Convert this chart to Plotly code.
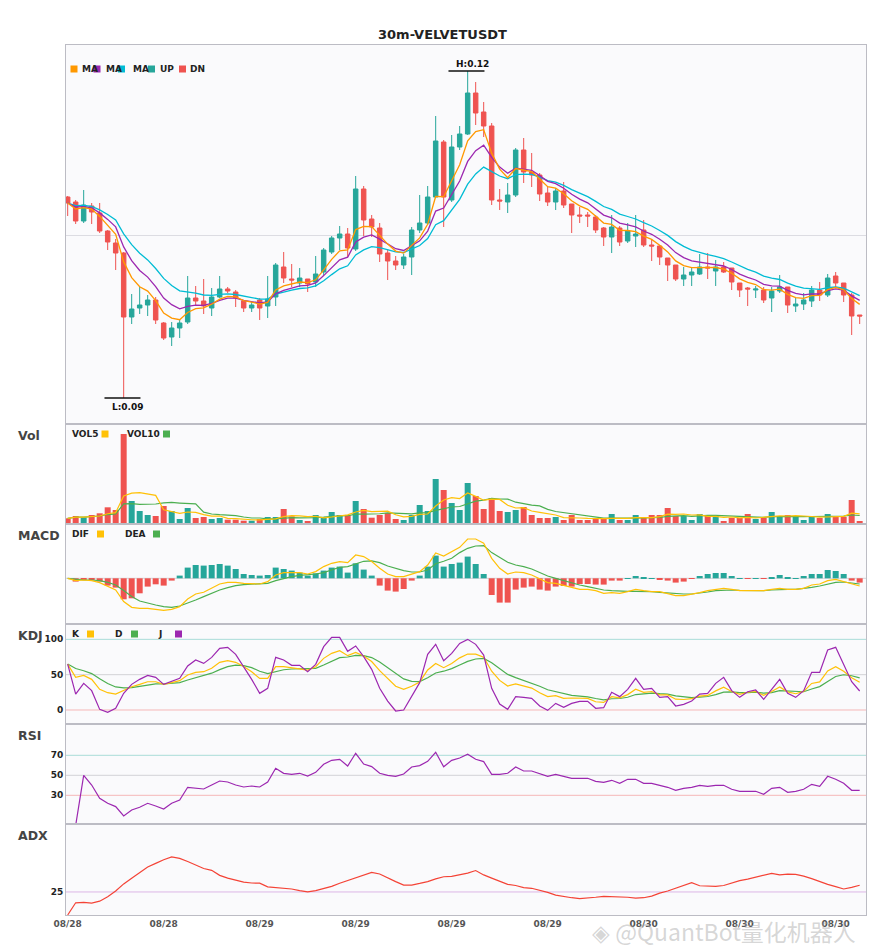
import plotly.graph_objects as go
from plotly.subplots import make_subplots

symbol = "30m-VELVETUSDT"
tick_index = [0, 12, 24, 36, 48, 60, 72, 84, 96]
tick_labels = ["08/28", "08/28", "08/29", "08/29", "08/29", "08/29", "08/30", "08/30", "08/30"]

open_ = [0.1074, 0.1069, 0.1050, 0.1065, 0.1058, 0.1040, 0.1028, 0.1018, 0.0954, 0.0963,
         0.0966, 0.0971, 0.0948, 0.0934, 0.0943, 0.0949, 0.0973, 0.0970, 0.0963, 0.0974,
         0.0982, 0.0979, 0.0970, 0.0963, 0.0971, 0.0965, 0.0974, 0.1004, 0.0992, 0.0988,
         0.0992, 0.0989, 0.0999, 0.1019, 0.1033, 0.1037, 0.1022, 0.1082, 0.1052, 0.1043,
         0.1018, 0.1010, 0.1006, 0.1014, 0.1041, 0.1048, 0.1074, 0.1129, 0.1071, 0.1124,
         0.1137, 0.1178, 0.1159, 0.1145, 0.1071, 0.1069, 0.1076, 0.1121, 0.1099, 0.1096,
         0.1078, 0.1069, 0.1080, 0.1067, 0.1056, 0.1056, 0.1054, 0.1043, 0.1034, 0.1043,
         0.1030, 0.1035, 0.1041, 0.1026, 0.1025, 0.1013, 0.1006, 0.0992, 0.0996, 0.0997,
         0.1004, 0.1000, 0.1004, 0.1003, 0.0988, 0.0983, 0.0981, 0.0981, 0.0973, 0.0980,
         0.0984, 0.0965, 0.0967, 0.0970, 0.0981, 0.0976, 0.0995, 0.0988, 0.0976, 0.0956]
high = [0.1075, 0.1071, 0.1081, 0.1068, 0.1068, 0.1041, 0.1032, 0.1019, 0.0977, 0.0984,
        0.0976, 0.0974, 0.0949, 0.0949, 0.0952, 0.0995, 0.0985, 0.0992, 0.0983, 0.0995,
        0.0984, 0.0981, 0.0971, 0.0969, 0.0973, 0.0995, 0.1008, 0.1019, 0.1007, 0.1003,
        0.0992, 0.1015, 0.1023, 0.1035, 0.1045, 0.1043, 0.1095, 0.1085, 0.1056, 0.1048,
        0.1022, 0.1015, 0.1017, 0.1044, 0.1076, 0.1085, 0.1155, 0.1131, 0.1136, 0.1145,
        0.1200, 0.1189, 0.1169, 0.1148, 0.1082, 0.1088, 0.1123, 0.1133, 0.1118, 0.1098,
        0.1084, 0.1083, 0.1089, 0.1067, 0.1064, 0.1059, 0.1056, 0.1044, 0.1056, 0.1045,
        0.1048, 0.1056, 0.1051, 0.1031, 0.1026, 0.1013, 0.1006, 0.1004, 0.1004, 0.1017,
        0.1018, 0.1011, 0.1009, 0.1003, 0.0988, 0.0984, 0.0985, 0.0984, 0.0984, 0.0996,
        0.0984, 0.0973, 0.0978, 0.0985, 0.0989, 0.0997, 0.0999, 0.0988, 0.0978, 0.0956]
low = [0.1055, 0.1047, 0.1048, 0.1047, 0.1038, 0.1021, 0.1001, 0.0873, 0.0947, 0.0957,
       0.0955, 0.0947, 0.0931, 0.0925, 0.0933, 0.0947, 0.0966, 0.0957, 0.0955, 0.0973,
       0.0978, 0.0964, 0.0959, 0.0959, 0.0951, 0.0953, 0.0965, 0.0988, 0.0984, 0.0984,
       0.0979, 0.0984, 0.0996, 0.1017, 0.1021, 0.1014, 0.1020, 0.1035, 0.1034, 0.1009,
       0.0991, 0.1001, 0.1002, 0.0996, 0.1038, 0.1046, 0.1074, 0.1044, 0.1069, 0.1121,
       0.1136, 0.1146, 0.1134, 0.1066, 0.1061, 0.1058, 0.1074, 0.1088, 0.1084, 0.1070,
       0.1065, 0.1061, 0.1063, 0.1038, 0.1048, 0.1044, 0.1038, 0.1025, 0.1018, 0.1025,
       0.1028, 0.1024, 0.1024, 0.1010, 0.1006, 0.0990, 0.0990, 0.0985, 0.0985, 0.0996,
       0.0992, 0.0985, 0.0998, 0.0981, 0.0974, 0.0965, 0.0973, 0.0968, 0.0959, 0.0978,
       0.0958, 0.0959, 0.0961, 0.0964, 0.0970, 0.0974, 0.0983, 0.0969, 0.0936, 0.0947]
close_ = [0.1068, 0.1050, 0.1066, 0.1059, 0.1040, 0.1029, 0.1018, 0.0954, 0.0962, 0.0966,
          0.0971, 0.0951, 0.0933, 0.0943, 0.0948, 0.0973, 0.0970, 0.0965, 0.0974, 0.0982,
          0.0980, 0.0973, 0.0963, 0.0966, 0.0963, 0.0972, 0.1006, 0.0993, 0.0991, 0.0993,
          0.0987, 0.0997, 0.1021, 0.1033, 0.1037, 0.1023, 0.1082, 0.1051, 0.1044, 0.1017,
          0.1010, 0.1006, 0.1014, 0.1041, 0.1048, 0.1074, 0.1130, 0.1074, 0.1124, 0.1137,
          0.1178, 0.1158, 0.1145, 0.1071, 0.1070, 0.1076, 0.1121, 0.1099, 0.1096, 0.1077,
          0.1069, 0.1080, 0.1066, 0.1056, 0.1055, 0.1055, 0.1041, 0.1034, 0.1044, 0.1029,
          0.1040, 0.1037, 0.1026, 0.1025, 0.1014, 0.1006, 0.0992, 0.0996, 0.0999, 0.1004,
          0.1003, 0.1004, 0.0999, 0.0989, 0.0981, 0.0982, 0.0982, 0.0971, 0.0980, 0.0984,
          0.0966, 0.0967, 0.0971, 0.0981, 0.0976, 0.0993, 0.0988, 0.0976, 0.0955, 0.0955]

ma5 = [0.10680, 0.10620, 0.10633, 0.10619, 0.10546, 0.10461, 0.10367, 0.10091, 0.09934, 0.09843,
       0.09799, 0.09703, 0.09579, 0.09529, 0.09513, 0.09585, 0.09623, 0.09632, 0.09668, 0.09719,
       0.09746, 0.09741, 0.09704, 0.09689, 0.09669, 0.09686, 0.09811, 0.09851, 0.09871, 0.09890,
       0.09883, 0.09912, 0.10011, 0.10117, 0.10201, 0.10211, 0.10414, 0.10446, 0.10444, 0.10353,
       0.10269, 0.10199, 0.10179, 0.10256, 0.10331, 0.10467, 0.10745, 0.10743, 0.10909, 0.11063,
       0.11302, 0.11395, 0.11413, 0.11179, 0.11019, 0.10933, 0.11025, 0.11013, 0.10995, 0.10920,
       0.10843, 0.10829, 0.10773, 0.10702, 0.10651, 0.10617, 0.10548, 0.10479, 0.10466, 0.10407,
       0.10405, 0.10393, 0.10349, 0.10316, 0.10257, 0.10191, 0.10101, 0.10054, 0.10033, 0.10035,
       0.10033, 0.10035, 0.10020, 0.09977, 0.09921, 0.09887, 0.09865, 0.09813, 0.09809, 0.09819,
       0.09766, 0.09734, 0.09726, 0.09754, 0.09756, 0.09814, 0.09836, 0.09811, 0.09724, 0.09666]
ma8 = [0.10680, 0.10640, 0.10644, 0.10632, 0.10581, 0.10516, 0.10441, 0.10241, 0.10103, 0.10005,
       0.09939, 0.09844, 0.09730, 0.09663, 0.09622, 0.09646, 0.09658, 0.09656, 0.09675, 0.09707,
       0.09728, 0.09728, 0.09706, 0.09696, 0.09681, 0.09690, 0.09772, 0.09807, 0.09830, 0.09852,
       0.09856, 0.09881, 0.09954, 0.10038, 0.10112, 0.10138, 0.10290, 0.10339, 0.10361, 0.10319,
       0.10270, 0.10223, 0.10205, 0.10251, 0.10302, 0.10399, 0.10599, 0.10630, 0.10766, 0.10900,
       0.11096, 0.11203, 0.11258, 0.11136, 0.11039, 0.10977, 0.11029, 0.11020, 0.11007, 0.10954,
       0.10896, 0.10874, 0.10827, 0.10767, 0.10719, 0.10682, 0.10621, 0.10559, 0.10532, 0.10479,
       0.10461, 0.10441, 0.10400, 0.10367, 0.10317, 0.10260, 0.10184, 0.10134, 0.10102, 0.10089,
       0.10075, 0.10068, 0.10050, 0.10015, 0.09969, 0.09936, 0.09910, 0.09866, 0.09851, 0.09849,
       0.09807, 0.09776, 0.09762, 0.09772, 0.09770, 0.09805, 0.09822, 0.09808, 0.09751, 0.09706]
ma13 = [0.10680, 0.10654, 0.10655, 0.10646, 0.10611, 0.10565, 0.10510, 0.10371, 0.10264, 0.10178,
        0.10111, 0.10025, 0.09926, 0.09855, 0.09801, 0.09791, 0.09778, 0.09760, 0.09757, 0.09766,
        0.09771, 0.09765, 0.09746, 0.09734, 0.09719, 0.09719, 0.09768, 0.09791, 0.09808, 0.09825,
        0.09832, 0.09852, 0.09903, 0.09964, 0.10022, 0.10052, 0.10161, 0.10211, 0.10244, 0.10233,
        0.10214, 0.10192, 0.10185, 0.10217, 0.10255, 0.10324, 0.10463, 0.10503, 0.10608, 0.10717,
        0.10869, 0.10971, 0.11039, 0.10992, 0.10950, 0.10923, 0.10964, 0.10968, 0.10967, 0.10939,
        0.10903, 0.10888, 0.10856, 0.10814, 0.10776, 0.10744, 0.10696, 0.10645, 0.10616, 0.10569,
        0.10545, 0.10520, 0.10483, 0.10450, 0.10405, 0.10356, 0.10294, 0.10246, 0.10209, 0.10185,
        0.10163, 0.10146, 0.10123, 0.10090, 0.10050, 0.10017, 0.09989, 0.09949, 0.09928, 0.09915,
        0.09879, 0.09849, 0.09829, 0.09826, 0.09817, 0.09833, 0.09840, 0.09828, 0.09789, 0.09754]

volume = [57, 80, 67, 90, 107, 167, 140, 900, 230, 130,
          90, 80, 180, 130, 50, 160, 60, 70, 50, 60,
          43, 43, 33, 33, 50, 70, 70, 150, 77, 40,
          30, 90, 70, 120, 90, 90, 230, 150, 63, 90,
          110, 50, 40, 90, 190, 130, 450, 340, 210, 140,
          410, 280, 150, 260, 130, 120, 140, 170, 90, 60,
          60, 70, 40, 90, 40, 40, 50, 50, 100, 40,
          40, 90, 60, 90, 90, 160, 80, 80, 40, 100,
          80, 80, 30, 60, 60, 100, 50, 60, 120, 80,
          90, 70, 40, 80, 60, 100, 70, 70, 240, 30]
vol5 = [57, 68.5, 68, 73.5, 80.2, 102.2, 114.2, 280.8, 308.8, 313.4,
        298, 286, 142, 122, 106, 120, 116, 94, 78, 80,
        56.6, 53.2, 45.8, 42.4, 40.4, 45.8, 51.2, 74.6, 83.4, 81.4,
        73.4, 77.4, 61.4, 70, 80, 92, 120, 136, 124.6, 124.6,
        128.6, 92.6, 70.6, 76, 96, 100, 180, 240, 264, 254,
        310, 276, 238, 248, 246, 188, 160, 164, 130, 116,
        104, 90, 64, 64, 60, 56, 52, 54, 56, 56,
        56, 64, 66, 64, 74, 98, 96, 100, 90, 92,
        76, 76, 66, 70, 62, 66, 60, 66, 78, 82,
        80, 84, 80, 72, 68, 70, 70, 76, 108, 102]
vol10 = [57, 68.5, 68, 73.5, 80.2, 94.7, 101.1, 201, 204.2, 196.8,
         200.1, 200.1, 211.4, 215.4, 209.7, 209, 201, 118, 100, 93,
         88.3, 84.6, 69.9, 60.2, 60.2, 51.2, 52.2, 60.2, 62.9, 60.9,
         59.6, 64.3, 68, 76.7, 80.7, 82.7, 98.7, 98.7, 97.3, 102.3,
         110.3, 106.3, 103.3, 100.3, 110.3, 114.3, 136.3, 155.3, 170, 175,
         205, 228, 239, 256, 250, 249, 218, 201, 189, 181,
         146, 125, 114, 97, 88, 80, 71, 59, 60, 58,
         56, 58, 60, 60, 65, 77, 80, 83, 77, 83,
         87, 86, 83, 80, 77, 71, 68, 66, 74, 72,
         73, 72, 73, 75, 75, 75, 77, 78, 90, 85]

dif = [0, -2.3, -1.7, -2.3, -4.3, -8.3, -11.7, -23.3, -29, -30,
       -30, -31, -32, -31, -28.3, -20.7, -15.7, -14, -10, -5.7,
       -4, -4, -5, -5.3, -5.7, -3.3, 3.3, 5.7, 5.7, 5.7,
       4.3, 6.7, 11.7, 15, 16.7, 15.7, 23.3, 21.7, 16.7, 10,
       4.3, 1.7, 1.7, 4.3, 6.7, 13.3, 25.3, 22.3, 26.7, 31,
       39.3, 39.3, 35, 20, 10, 4.3, 6.3, 5.7, 3.3, -0.7,
       -4.3, -5, -6.7, -9, -11, -11, -12.3, -15, -14.3, -15,
       -13.3, -11, -12.3, -13.3, -13.3, -15, -17.3, -17.3, -16, -14.3,
       -12.3, -11, -10, -11, -12.3, -12.3, -12.3, -12.3, -11, -10,
       -11, -11, -10, -6.7, -5.7, -2.3, -1, -3.3, -5.7, -7.7]
dea = [0, -1, -1.7, -1.7, -2.3, -4, -6.7, -12.3, -18.3, -22.7,
       -25, -26.7, -28.3, -29, -27.7, -25, -21.7, -18.3, -15, -11.7,
       -9.3, -7.3, -6.3, -6, -5.7, -5, -2.3, 0, 1.7, 3,
       3.3, 4.3, 5.7, 8.3, 11, 11.7, 14.5, 17, 17.5, 15.7,
       12.3, 10, 7.7, 6.3, 6.3, 8.3, 14.5, 17, 20, 25.7,
       30, 32.3, 32.7, 25.7, 21, 16, 13.3, 11.7, 9.3, 6,
       2.3, 0, -2.3, -5, -6.7, -8.3, -10, -11.7, -12.3, -13,
       -13, -13, -13, -13.3, -14, -14.7, -15.7, -15.7, -15.7, -15,
       -13.7, -12.3, -11.7, -11.7, -12, -12.3, -12.3, -12.3, -11.7, -11,
       -11, -11, -10.3, -9, -7.7, -5.7, -4, -3.7, -4.7, -5.7]
macd_hist = [0, -3.3, -1.7, -1.7, -3.3, -7.3, -9.3, -21, -20, -15,
             -8.3, -6, -7.3, -2.3, 2.7, 10.7, 13.3, 12.7, 13.3, 14.3,
             12.7, 9.3, 4.3, 3.3, 2.7, 3.3, 10.7, 9.3, 7.7, 5.7,
             2.7, 5, 7.7, 10.7, 11.7, 5.7, 15, 8.7, 2.7, -7.3,
             -12.3, -13.3, -10.7, -2.3, 2.7, 11.7, 22.7, 11.7, 14.3, 15.7,
             21.7, 14.3, 4.3, -16.7, -24.3, -24.3, -11.3, -9.3, -8.3, -11.3,
             -12.3, -8.3, -7.7, -8.3, -5.7, -5.7, -6.3, -6.3, -2.3, -2.3,
             0.3, 2.3, 1.3, 0.3, -1.3, -2.3, -4.3, -3.3, -0.7, 2.3,
             4.3, 5.3, 5.3, 2.3, 0.3, -0.7, 0.3, -0.7, 1.3, 3.3,
             1.3, 0.3, 2.3, 4.3, 4.3, 8.3, 7.3, 4.3, -2.3, -4.3]

k_line = [65, 46.2, 49, 43.4, 29.2, 24.5, 22.6, 28.3, 33, 36.3,
          40, 40, 36.3, 38.7, 41.5, 49.5, 53.3, 54.2, 59, 67.5,
          69.8, 67.5, 61.7, 54, 44.8, 44.8, 61.3, 61.3, 59.9, 59,
          56.6, 61.3, 73.1, 80.2, 84, 76.9, 81.6, 76.5, 68.6, 55.6,
          44.3, 33.7, 29.3, 33.6, 39.7, 56.7, 65.9, 59.9, 65.7, 73.8,
          79.2, 79.1, 74.6, 54.9, 41.9, 33.9, 36.9, 33.9, 31, 24.3,
          19, 20.4, 16.4, 17, 17.2, 16.5, 11.7, 10.7, 18.9, 17.2,
          21.8, 29.5, 25, 26.2, 21.4, 21.3, 15.3, 14.9, 16, 19.7,
          20.6, 27.1, 32.3, 26.2, 22.3, 25.1, 26.2, 20.9, 26.1, 32.7,
          25.7, 23, 26.3, 37.6, 39.8, 55.3, 61.2, 54.8, 45.7, 39.2]
d_line = [65, 58.7, 55.5, 51.5, 44.1, 37.6, 32.6, 31.2, 31.8, 33.3,
          35.5, 37, 36.8, 37.4, 38.8, 42.4, 46, 48.7, 52.1, 57.2,
          61.4, 63.4, 62.8, 59.9, 54.9, 51.5, 54.8, 57, 58, 58.3,
          57.7, 58.9, 63.6, 69.1, 74.1, 75, 77.2, 77, 74.2, 68,
          60.1, 51.3, 44, 40.5, 40.2, 45.7, 52.4, 54.9, 58.5, 63.6,
          68.8, 72.2, 73, 67, 58.6, 50.4, 45.9, 41.9, 38.3, 33.6,
          28.7, 25.9, 22.7, 20.8, 19.6, 18.6, 16.3, 14.4, 15.9, 16.3,
          18.1, 21.9, 22.9, 24, 23.1, 22.5, 20.1, 18.4, 17.6, 18.3,
          19.1, 21.8, 25.3, 25.6, 24.5, 24.7, 25.2, 23.8, 24.6, 27.3,
          26.8, 25.5, 25.8, 29.7, 33.1, 40.5, 47.4, 49.9, 48.5, 45.4]
j_line = [65, 22.6, 37.7, 27.4, 0.9, -3.3, 2.4, 23.6, 36.3, 43.4,
          49, 46.2, 36.3, 40, 44.8, 62.3, 70.8, 66, 74.5, 87.3,
          88.7, 78.8, 61.3, 43.4, 23.6, 30.7, 74.5, 70.8, 63.2, 63.2,
          54.2, 64.6, 89.6, 102.8, 102.8, 83, 90.6, 75.5, 57.5, 30.7,
          12.7, -1.4, 0, 19.8, 38.7, 78.8, 92.9, 69.8, 80.2, 94.3,
          100, 92.9, 77.8, 30.7, 8.5, 0.9, 18.9, 17.9, 16.5, 5.7,
          -0.5, 9.4, 3.8, 9.4, 12.3, 12.3, 2.4, 3.3, 25, 18.9,
          29.2, 44.8, 29.2, 30.7, 17.9, 18.9, 5.7, 8, 12.7, 22.6,
          23.6, 37.7, 46.2, 27.4, 17.9, 25.9, 28.3, 15.1, 29.2, 43.4,
          23.6, 17.9, 27.4, 53.3, 53.3, 84.9, 88.7, 64.6, 40, 26.9]

rsi = [None, 0, 50, 40.3, 27, 22, 18.7, 9.3, 15.3, 18,
       22, 19.3, 16.3, 22, 25.3, 38, 37, 36.3, 40.3, 44.3,
       43.3, 40.3, 38.3, 39.3, 38.3, 43.3, 57, 52, 51, 52,
       49.3, 53, 61, 65, 66, 59.3, 72, 61.3, 58.7, 52,
       50, 49, 51.3, 58.3, 59.7, 64, 73, 58.5, 65, 67.3,
       71, 66, 63.7, 51, 51, 52, 58.3, 54.3, 54.3, 51.3,
       49, 51, 49, 47, 47, 47, 44, 43, 45, 42,
       46, 46, 42, 42, 40, 38, 35, 37, 38, 40,
       39, 40, 40, 36, 34, 34, 34, 31, 37, 38,
       33, 34, 36, 41, 39, 49, 46, 42, 35, 35]

adx = [15.0, 20.3, 20.5, 20.2, 21.0, 22.9, 25.4, 28.5, 31.0, 33.6,
       35.8, 37.4, 39.0, 40.2, 39.6, 38.2, 36.6, 35.2, 34.4, 32.2,
       31.0, 30.2, 29.3, 28.9, 28.8, 27.2, 26.9, 26.6, 26.3, 25.6,
       25.0, 25.6, 26.5, 27.4, 28.8, 30.0, 30.9, 32.2, 33.5, 32.8,
       31.0, 29.5, 28.0, 28.0, 28.7, 29.5, 30.7, 31.6, 31.8, 32.4,
       33.2, 34.3, 32.4, 31.0, 29.6, 28.3, 27.8, 26.9, 26.6, 25.8,
       24.8, 23.6, 22.9, 22.5, 22.1, 22.3, 22.7, 23.1, 23.0, 22.7,
       22.7, 22.3, 22.5, 23.2, 24.5, 25.4, 26.5, 27.8, 29.0, 27.7,
       27.5, 27.4, 27.8, 28.9, 29.9, 30.6, 31.4, 32.3, 33.1, 32.4,
       32.7, 32.6, 31.9, 30.8, 29.5, 28.3, 27.3, 26.3, 27.0, 27.9]

x = list(range(len(close_)))

UP = "#26a69a"
DN = "#ef5350"
C_MA5 = "#ff9800"
C_MA8 = "#9c27b0"
C_MA13 = "#00bcd4"
C_Y = "#ffc107"
C_G = "#4caf50"
C_P = "#9c27b0"

# the page body adds an 8 px offset, so the figure is 8 px smaller than the window
W, H = 877, 942
L, R, T, B = 58, 19, 37, 35
PW, PH = W - L - R, H - T - B
SX0, SY1 = 66, 915  # screen position of the plot area's left and bottom edges


def px(xs):
    return (xs - SX0) / PW


def py(ys):
    return (SY1 - ys) / PH


fig = make_subplots(rows=6, cols=1, shared_xaxes=True, vertical_spacing=0,
                    row_heights=[379, 100, 100, 100, 100, 91])

fig.add_trace(go.Candlestick(
    x=x, open=open_, high=high, low=low, close=close_,
    increasing=dict(line=dict(color=UP, width=1), fillcolor=UP),
    decreasing=dict(line=dict(color=DN, width=1), fillcolor=DN),
    whiskerwidth=0, showlegend=False, hoverinfo="skip"), row=1, col=1)
for arr, col in ((ma13, C_MA13), (ma8, C_MA8), (ma5, C_MA5)):
    fig.add_trace(go.Scatter(x=x, y=arr, mode="lines", line=dict(color=col, width=1.3),
                             showlegend=False, hoverinfo="skip"), row=1, col=1)

vol_colors = [UP if c >= o else DN for o, c in zip(open_, close_)]
fig.add_trace(go.Bar(x=x, y=volume, marker=dict(color=vol_colors, line=dict(width=0)),
                     width=0.75, showlegend=False, hoverinfo="skip"), row=2, col=1)
fig.add_trace(go.Scatter(x=x, y=vol10, mode="lines", line=dict(color=C_G, width=1.2),
                         showlegend=False, hoverinfo="skip"), row=2, col=1)
fig.add_trace(go.Scatter(x=x, y=vol5, mode="lines", line=dict(color=C_Y, width=1.2),
                         showlegend=False, hoverinfo="skip"), row=2, col=1)

hist_colors = [UP if v >= 0 else DN for v in macd_hist]
fig.add_trace(go.Bar(x=x, y=macd_hist, marker=dict(color=hist_colors, line=dict(width=0)),
                     width=0.75, showlegend=False, hoverinfo="skip"), row=3, col=1)
fig.add_trace(go.Scatter(x=x, y=dea, mode="lines", line=dict(color=C_G, width=1.2),
                         showlegend=False, hoverinfo="skip"), row=3, col=1)
fig.add_trace(go.Scatter(x=x, y=dif, mode="lines", line=dict(color=C_Y, width=1.2),
                         showlegend=False, hoverinfo="skip"), row=3, col=1)

for arr, col in ((d_line, C_G), (k_line, C_Y), (j_line, C_P)):
    fig.add_trace(go.Scatter(x=x, y=arr, mode="lines", line=dict(color=col, width=1.2),
                             showlegend=False, hoverinfo="skip"), row=4, col=1)

fig.add_trace(go.Scatter(x=x, y=rsi, mode="lines", line=dict(color=C_P, width=1.2),
                         showlegend=False, hoverinfo="skip"), row=5, col=1)
fig.add_trace(go.Scatter(x=x, y=adx, mode="lines", line=dict(color="#f44336", width=1.2),
                         showlegend=False, hoverinfo="skip"), row=6, col=1)

# reference lines
TEAL_L, GRAY_L, PINK_L = "#a9dcd8", "#d2d2d6", "#f5b7b7"
fig.add_hline(y=0, line=dict(color=GRAY_L, width=1), layer="below", row=3, col=1)
for yv, c in ((100, TEAL_L), (50, GRAY_L), (0, PINK_L)):
    fig.add_hline(y=yv, line=dict(color=c, width=1), layer="below", row=4, col=1)
for yv, c in ((70, TEAL_L), (50, GRAY_L), (30, PINK_L)):
    fig.add_hline(y=yv, line=dict(color=c, width=1), layer="below", row=5, col=1)
fig.add_hline(y=25, line=dict(color="#dcb6e6", width=1), layer="below", row=6, col=1)

AX_LINE = "#bcbcc4"
fig.update_xaxes(range=[-0.21, 99.79], showgrid=False, zeroline=False, showline=True,
                 mirror=True, linecolor=AX_LINE, linewidth=1, showticklabels=False,
                 ticks="", rangeslider_visible=False)
fig.update_xaxes(row=6, col=1, showticklabels=True, tickvals=tick_index, ticktext=tick_labels,
                 tickfont=dict(size=9, color="#555", weight="bold"))
fig.update_yaxes(showgrid=False, zeroline=False, showline=True, mirror=True,
                 linecolor=AX_LINE, linewidth=1, showticklabels=False, ticks="")
fig.update_yaxes(row=1, col=1, range=[0.0847, 0.1226], tickvals=[0.1036], showgrid=True,
                 gridcolor="#dcdce2")
fig.update_yaxes(row=2, col=1, range=[0, 1000])
fig.update_yaxes(row=3, col=1, range=[-45.7, 54.3])
tf = dict(size=9, color="#222", weight="bold")
fig.update_yaxes(row=4, col=1, range=[-19.8, 121.7], tickvals=[0, 50, 100],
                 showticklabels=True, tickfont=tf)
fig.update_yaxes(row=5, col=1, range=[1.3, 101.3], tickvals=[30, 50, 70],
                 showticklabels=True, tickfont=tf)
fig.update_yaxes(row=6, col=1, range=[15, 54.5], tickvals=[25],
                 showticklabels=True, tickfont=tf)

# high / low markers
hi_i = max(x, key=lambda i: high[i])
lo_i = min(x, key=lambda i: low[i])
fig.add_shape(type="line", xref="x", yref="y", x0=hi_i - 2.4, x1=hi_i + 2.1,
              y0=high[hi_i], y1=high[hi_i], line=dict(color="#111", width=1.5))
fig.add_shape(type="line", xref="x", yref="y", x0=lo_i - 2.4, x1=lo_i + 2.1,
              y0=low[lo_i], y1=low[lo_i], line=dict(color="#111", width=1.5))
fig.add_annotation(x=hi_i + 0.6, y=high[hi_i], xref="x", yref="y", text=f"H:{high[hi_i]:.2f}",
                   showarrow=False, yshift=7, font=dict(size=9, color="#111", weight="bold"))
fig.add_annotation(x=lo_i + 0.5, y=low[lo_i], xref="x", yref="y", text=f"L:{low[lo_i]:.2f}",
                   showarrow=False, yshift=-9, font=dict(size=9, color="#111", weight="bold"))

# legends drawn as swatches + labels
lf = dict(size=9, color="#222", weight="bold")


def swatch(x0, yc, color, size=7):
    fig.add_shape(type="rect", xref="paper", yref="paper", x0=px(x0), x1=px(x0 + size),
                  y0=py(yc + size / 2), y1=py(yc - size / 2), fillcolor=color,
                  line=dict(width=0), layer="above")


def label(x0, yc, text, font=lf):
    fig.add_annotation(x=px(x0), y=py(yc), xref="paper", yref="paper", text=text,
                       showarrow=False, xanchor="left", yanchor="middle", font=font)


main_legend = [("MA", C_MA5, 70.5, 81), ("MA", C_MA8, 93.5, 105), ("MA", C_MA13, 118, 131.5),
               ("UP", UP, 148, 159), ("DN", DN, 179, 189)]
for txt, col, sx, tx in main_legend:
    label(tx - 1, 69, txt)
    swatch(sx, 69, col)

for txt, col, sx, tx in (("VOL5", C_Y, 101.5, 69.5), ("VOL10", C_G, 163, 125)):
    label(tx, 434, txt)
    swatch(sx, 434, col)
for txt, col, sx, tx in (("DIF", C_Y, 97, 70), ("DEA", C_G, 153, 123)):
    label(tx, 534, txt)
    swatch(sx, 534, col)
for txt, col, sx, tx in (("K", C_Y, 87, 70), ("D", C_G, 131, 112.5), ("J", C_P, 175, 156)):
    label(tx, 634, txt)
    swatch(sx, 634, col)

pf = dict(size=12.5, color="#444", weight="bold")
for txt, yc in (("Vol", 435), ("MACD", 535), ("KDJ", 635), ("RSI", 735), ("ADX", 835)):
    label(16, yc, txt, font=pf)

# watermark overlay in the lower right corner, as in the reference
fig.add_annotation(x=px(590), y=py(931), xref="paper", yref="paper",
                   text="◈ @QuantBot量化机器人", showarrow=False, xanchor="left", yanchor="middle",
                   font=dict(size=23, color="rgba(165,165,165,0.45)", family="Noto Sans CJK SC"))

fig.update_layout(
    width=W, height=H,
    margin=dict(l=L, r=R, t=T, b=B, autoexpand=False),
    paper_bgcolor="white", plot_bgcolor="#fafafc",
    font=dict(family="DejaVu Sans", color="#222"),
    title=dict(text=f"<b>{symbol}</b>", x=(442.5 - 8) / W, xanchor="center", y=1 - 26 / H,
               yanchor="middle", font=dict(size=13, color="#222")),
    boxgap=0.2, bargap=0.25, showlegend=False,
)

fig.write_html("out.html")
